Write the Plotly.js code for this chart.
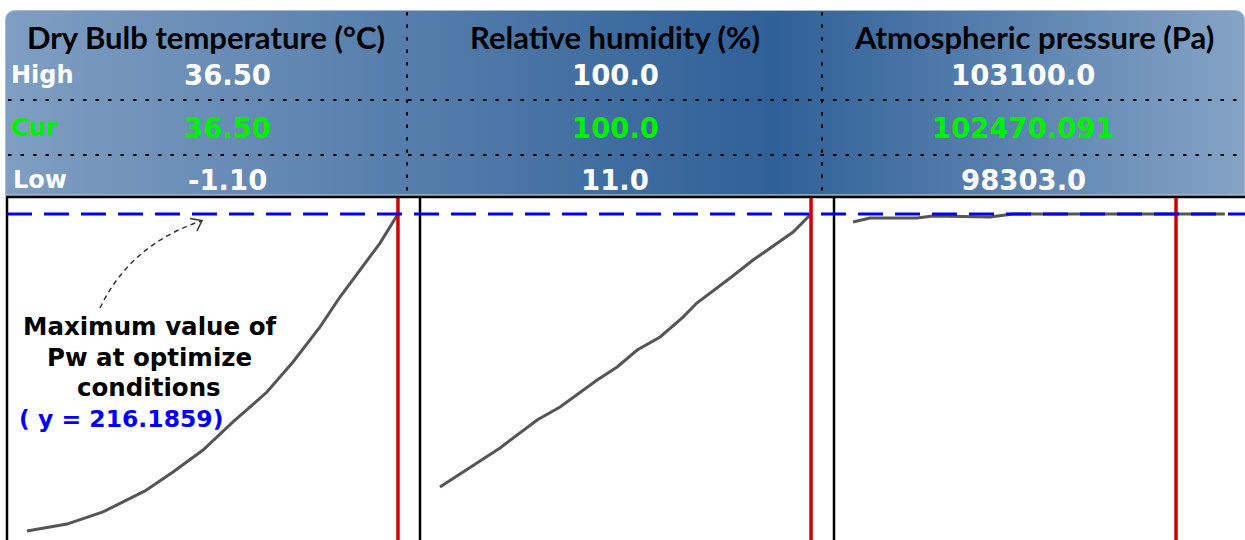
<!DOCTYPE html>
<html><head><meta charset="utf-8">
<script src="https://cdn.plot.ly/plotly-3.0.1.min.js"></script>
<style>html,body{margin:0;padding:0;background:#fff}#chart{width:1245px;height:540px}</style>
</head><body><div id="chart"></div>
<script>
// ---------- data ----------
const factorNames = ["Dry Bulb temperature (°C)", "Relative humidity (%)", "Atmospheric pressure (Pa)"];
const rowLabels = ["High", "Cur", "Low"];
const highVals = ["36.50", "100.0", "103100.0"];
const curVals  = ["36.50", "100.0", "102470.091"];
const lowVals  = ["-1.10", "11.0", "98303.0"];
const curNum   = [36.50, 100.0, 102470.091];
const optimumY = 216.1859;

const tempX = [-1.1, 2.95, 6.6, 10.86, 13.7, 16.74, 19.78, 23.22, 25.86, 28.6, 30.62, 32.65, 34.68, 36.5];
const tempY = [20.0, 24.3, 31.8, 44.8, 56.5, 70.1, 87.5, 106.0, 124.6, 146.3, 164.8, 181.5, 198.2, 216.1859];
const rhX = [11, 25.4, 34.3, 39.8, 48.7, 53.5, 58.3, 63.8, 69.3, 72.6, 80.6, 86.1, 95.7, 100];
const rhY = [47.2, 71.4, 88.7, 96.7, 113.4, 121.5, 132.0, 140.1, 152.4, 161.1, 176.6, 187.7, 205.0, 216.1859];
const presX = [98303, 98522, 99129, 99335, 100071, 100367, 103100];
const presY = [211.2, 213.7, 213.7, 215.0, 214.3, 216.1859, 216.1859];

const noteLines = ["Maximum value of", "Pw at optimize", "conditions"];
const noteValue = "( y = " + optimumY.toFixed(4) + ")";

// ---------- layout helpers ----------
const W = 1245, H = 540;
const px = x => x / W;
const py = y => 1 - y / H;
const TITLE_FONT = "Lato, 'Open Sans', sans-serif";
const BODY_FONT = "'DejaVu Sans', Verdana, sans-serif";
const panelTop = 197;

const curveStyle = {color: "#555555", width: 3};
const traces = [
  {x: tempX, y: tempY, xaxis: "x", yaxis: "y", type: "scatter", mode: "lines", line: curveStyle, hoverinfo: "skip"},
  {x: rhX, y: rhY, xaxis: "x2", yaxis: "y", type: "scatter", mode: "lines", line: curveStyle, hoverinfo: "skip"},
  {x: presX, y: presY, xaxis: "x3", yaxis: "y", type: "scatter", mode: "lines", line: curveStyle, hoverinfo: "skip"}
];

const hiddenAx = {visible: false, fixedrange: true, showgrid: false, zeroline: false};
const layout = {
  width: W, height: H,
  margin: {l: 0, r: 0, t: 0, b: 0, pad: 0},
  paper_bgcolor: "#ffffff", plot_bgcolor: "rgba(0,0,0,0)",
  showlegend: false,
  xaxis:  Object.assign({}, hiddenAx, {domain: [px(7), px(410)], range: [-3.127, 37.72], anchor: "y"}),
  xaxis2: Object.assign({}, hiddenAx, {domain: [px(420), px(825)], range: [6.203, 103.35], anchor: "y"}),
  xaxis3: Object.assign({}, hiddenAx, {domain: [px(834), 1], range: [98057.9, 103360], anchor: "y"}),
  yaxis:  Object.assign({}, hiddenAx, {domain: [0, py(panelTop)], range: [14.43, 226.71]}),
  shapes: [], annotations: [], images: []
};

// header background (gradient rounded box)
const svg = "<svg xmlns='http://www.w3.org/2000/svg' width='1240' height='186' viewBox='0 0 1240 186' preserveAspectRatio='none'>" +
  "<defs><linearGradient id='g' x1='0' x2='1' y1='0' y2='0'>" +
  "<stop offset='0' stop-color='#7f9ec2'/><stop offset='0.62' stop-color='#2f6097'/><stop offset='1' stop-color='#85a4c6'/>" +
  "</linearGradient></defs>" +
  "<rect x='0.5' y='0.5' width='1239' height='220' rx='9' ry='9' fill='url(#g)' stroke='#a8bad0' stroke-width='1'/></svg>";
layout.images.push({
  source: "data:image/svg+xml;base64," + btoa(svg),
  xref: "paper", yref: "paper", x: px(5), y: py(10), sizex: 1240 / W, sizey: 186 / H,
  xanchor: "left", yanchor: "top", sizing: "stretch", layer: "below"
});
layout.shapes.push({type: "line", xref: "paper", yref: "paper", x0: px(5), x1: 1, y0: py(195), y1: py(195), line: {color: "#aab8c8", width: 1.5}});

// dotted separators
const dot = {color: "#000000", width: 2, dash: "3.5px,9px"};
[100, 155].forEach(yy => layout.shapes.push({type: "line", xref: "paper", yref: "paper", x0: px(8), x1: px(1240), y0: py(yy), y1: py(yy), line: dot}));
[407, 822].forEach(xx => layout.shapes.push({type: "line", xref: "paper", yref: "paper", x0: px(xx), x1: px(xx), y0: py(12), y1: py(195), line: dot}));

// header texts
const colTitleX = [206, 615, 1034];
const colValX = [227, 615, 1023];
const rowY = [75, 128, 180];
const rowColor = ["#ffffff", "#00f000", "#ffffff"];
const rowVals = [highVals, curVals, lowVals];
factorNames.forEach((t, i) => layout.annotations.push({
  text: "<b>" + t + "</b>", xref: "paper", yref: "paper", x: px(colTitleX[i]), y: py(36.5),
  xanchor: "center", yanchor: "middle", showarrow: false, font: {family: TITLE_FONT, size: 31, color: "#000000", weight: 800}
}));
rowLabels.forEach((lab, r) => {
  layout.annotations.push({
    text: "<b>" + lab + "</b>", xref: "paper", yref: "paper", x: px(r === 2 ? 11 : 9), y: py(rowY[r] - 0.5),
    xanchor: "left", yanchor: "middle", showarrow: false, font: {family: BODY_FONT, size: 24, color: rowColor[r]}
  });
  rowVals[r].forEach((v, c) => layout.annotations.push({
    text: "<b>" + v + "</b>", xref: "paper", yref: "paper", x: px(colValX[c]), y: py(rowY[r]),
    xanchor: "center", yanchor: "middle", showarrow: false, font: {family: BODY_FONT, size: 27.5, color: rowColor[r]}
  }));
});

// plot panels: lines
layout.shapes.push({type: "line", xref: "paper", yref: "paper", x0: px(6), x1: 1, y0: py(panelTop), y1: py(panelTop), line: {color: "#000", width: 2.5}});
[7, 420, 834].forEach(xx => layout.shapes.push({type: "line", xref: "paper", yref: "paper", x0: px(xx), x1: px(xx), y0: 0, y1: py(panelTop), line: {color: "#000", width: 2.5}}));
["x", "x2", "x3"].forEach((ax, i) => layout.shapes.push({
  type: "line", xref: ax, yref: "paper", x0: curNum[i], x1: curNum[i], y0: 0, y1: py(panelTop + 1),
  line: {color: "#d00000", width: 3.5}, layer: "above"
}));
layout.shapes.push({type: "line", xref: "paper", yref: "y", x0: px(7), x1: 1, y0: optimumY, y1: optimumY,
  line: {color: "#0000ff", width: 3, dash: "25px,12px"}, layer: "above"});

// note and dashed curved arrow
const noteY = [326, 357, 387];
noteLines.forEach((t, i) => layout.annotations.push({
  text: "<b>" + t + "</b>", xref: "paper", yref: "paper", x: px(149), y: py(noteY[i]),
  xanchor: "center", yanchor: "middle", showarrow: false, font: {family: BODY_FONT, size: 24.5, color: "#000000"}
}));
layout.annotations.push({
  text: "<b>" + noteValue + "</b>", xref: "paper", yref: "paper", x: px(17), y: py(419),
  xanchor: "left", yanchor: "middle", showarrow: false, font: {family: BODY_FONT, size: 23.5, color: "#0000ff"}
});
const P = (x, y) => px(x).toFixed(5) + "," + py(y).toFixed(5);
layout.shapes.push({type: "path", xref: "paper", yref: "paper",
  path: "M" + P(100, 308) + " Q" + P(130, 245) + " " + P(201, 221),
  line: {color: "#333333", width: 1.5, dash: "5px,4px"}});
layout.shapes.push({type: "path", xref: "paper", yref: "paper",
  path: "M" + P(190, 218.5) + " L" + P(202, 220.5) + " L" + P(197, 231),
  line: {color: "#333333", width: 1.5}});

Plotly.newPlot("chart", traces, layout, {staticPlot: true, displayModeBar: false});
</script></body></html>
